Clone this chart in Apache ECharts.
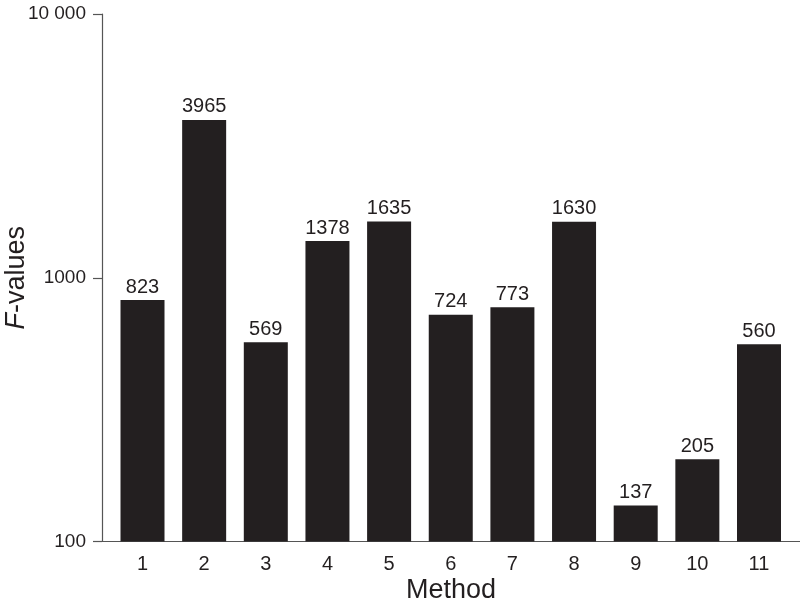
<!DOCTYPE html>
<html><head><meta charset="utf-8">
<script src="https://cdn.jsdelivr.net/npm/echarts@6/dist/echarts.min.js"></script>
<style>html,body{margin:0;padding:0;background:#fff}#c{width:800px;height:604px}</style>
</head><body><div id="c"></div>
<script>
const methods = [1,2,3,4,5,6,7,8,9,10,11];
const fValues = [823,3965,569,1378,1635,724,773,1630,137,205,560];
const yTicks = [100,1000,10000];
const yTickLabels = ['100','1000','10 000'];

const FONT = '"Liberation Sans", Arial, Helvetica, sans-serif';
const chart = echarts.init(document.getElementById('c'), null, {renderer:'canvas'});
chart.setOption({
  animation:false,
  grid:{left:102,right:0,top:14,bottom:62.5,containLabel:false,outerBoundsMode:'none'},
  xAxis:{
    type:'value', min:0.343, max:11.665,
    name:'Method', nameLocation:'middle', nameGap:36, nameMoveOverlap:false,
    nameTextStyle:{fontFamily:FONT,fontSize:27,color:'#231f20'},
    axisLine:{show:true,onZero:false,lineStyle:{color:'#555',width:1.2}},
    axisTick:{show:false},
    splitLine:{show:false},
    axisLabel:{customValues:methods,fontFamily:FONT,fontSize:20,color:'#231f20',margin:13}
  },
  yAxis:{
    type:'log', logBase:10, min:100, max:10000,
    name:'{i|F}-values', nameLocation:'middle', nameGap:72, nameRotate:90, nameMoveOverlap:false,
    nameTextStyle:{fontFamily:FONT,fontSize:27,color:'#231f20',
      rich:{i:{fontFamily:FONT,fontSize:27,fontStyle:'italic',color:'#231f20'}}},
    axisLine:{show:true,lineStyle:{color:'#555',width:1.2}},
    axisTick:{show:true,length:9,lineStyle:{color:'#555',width:1.2}},
    minorTick:{show:false},
    splitLine:{show:false},
    axisLabel:{fontFamily:FONT,fontSize:19,color:'#231f20',margin:16,
      formatter:v=>{const k=yTicks.indexOf(Math.round(v));return k>=0?yTickLabels[k]:'';}}
  },
  series:[{
    type:'bar',
    data:methods.map((m,i)=>[m,fValues[i]]),
    barWidth:44,
    itemStyle:{color:'#231f20'},
    label:{show:true,position:'top',distance:3,fontFamily:FONT,fontSize:20,color:'#231f20',
      formatter:p=>String(p.value[1])}
  }]
});
</script></body></html>
